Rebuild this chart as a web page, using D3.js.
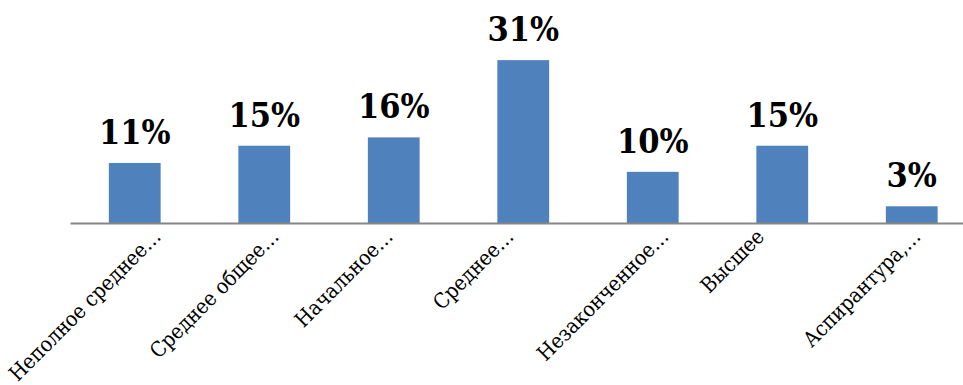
<!DOCTYPE html>
<html>
<head>
<meta charset="utf-8">
<script src="https://cdn.jsdelivr.net/npm/d3@7"></script>
<style>
  body { margin: 0; background: #fff; }
  svg { display: block; }
  text { font-family: "DejaVu Serif", serif; font-stretch: condensed; }
</style>
</head>
<body>
<svg width="963" height="385"></svg>
<script>
var categories = ["Неполное среднее…", "Среднее общее…", "Начальное…", "Среднее…",
                  "Незаконченное…", "Высшее", "Аспирантура,…"];
var values = [11.5, 14.8, 16.4, 31.2, 9.8, 14.8, 3.2];
var valueLabels = ["11%", "15%", "16%", "31%", "10%", "15%", "3%"];

var svg = d3.select("svg");
var width = 963, height = 385;

var BASE = 223;
var x = d3.scaleBand()
    .domain(categories)
    .range([70, 70 + 7 * 129.5])
    .paddingInner(0.6)
    .paddingOuter(0.3);

var y = d3.scaleLinear()
    .domain([0, 35])
    .range([BASE, BASE - 35 * 5.22]);

var data = categories.map(function (c, i) {
    return { cat: c, value: values[i], label: valueLabels[i] };
});

svg.append("g")
    .attr("class", "bars")
    .selectAll("rect")
    .data(data)
    .enter().append("rect")
    .attr("x", function (d) { return x(d.cat); })
    .attr("y", function (d) { return y(d.value); })
    .attr("width", x.bandwidth())
    .attr("height", function (d) { return BASE - y(d.value); })
    .attr("fill", "#4f81bd");

// axis line
var axis = svg.append("g")
    .attr("transform", "translate(0," + BASE + ")")
    .call(d3.axisBottom(x).tickSize(0).tickFormat(""));
axis.select(".domain")
    .attr("stroke", "#868686")
    .attr("stroke-width", 2);

// value labels
svg.append("g")
    .selectAll("text")
    .data(data)
    .enter().append("text")
    .attr("x", function (d) { return x(d.cat) + x.bandwidth() / 2; })
    .attr("y", function (d) { return y(d.value) - 19; })
    .attr("text-anchor", "middle")
    .style("font-weight", "bold")
    .style("font-size", "34px")
    .attr("fill", "#000")
    .text(function (d) { return d.label; });

// rotated category labels
var cat = svg.append("g")
    .selectAll("text")
    .data(data)
    .enter().append("text")
    .attr("text-anchor", "end")
    .style("font-size", "21px")
    .attr("fill", "#000")
    .text(function (d) { return d.cat; });

// centre of each label sits a bit left of the tick, top kept just under the axis
cat.attr("transform", function (d) {
    var L = this.getComputedTextLength();
    var cx = x(d.cat) + x.bandwidth() / 2;
    var ex = cx - 45 + 0.354 * L;
    return "translate(" + ex + "," + 238 + ") rotate(-45)";
});
</script>
</body>
</html>
